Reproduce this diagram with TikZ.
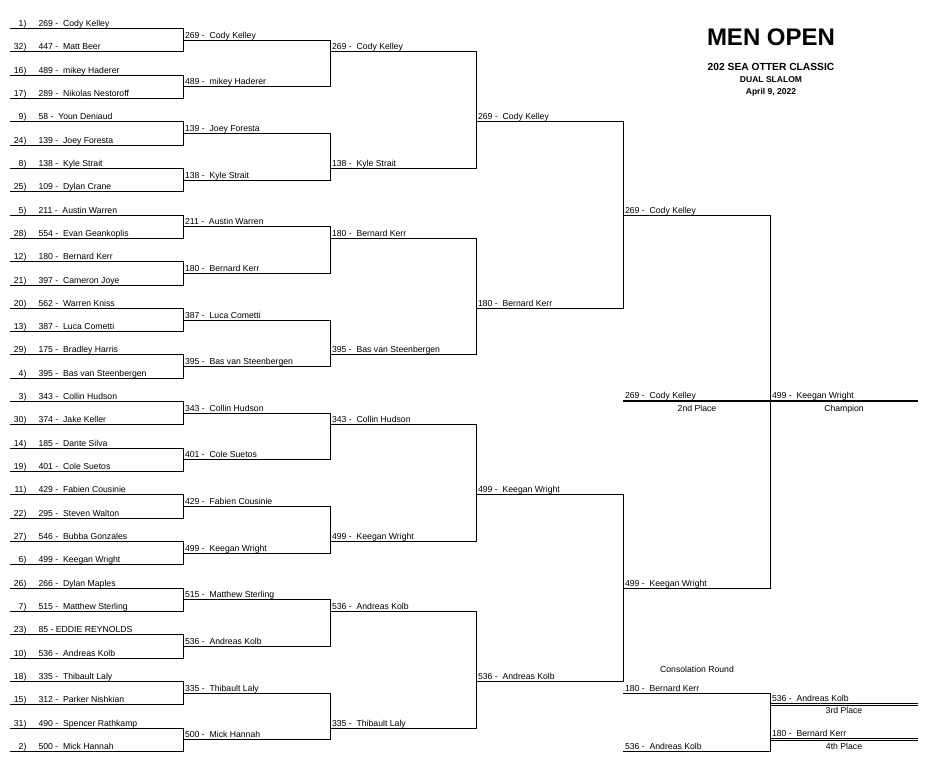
\documentclass[tikz,border=0pt]{standalone}
\usepackage{fontspec}
\setmainfont{Liberation Sans}
\newcommand\ent[2]{#1 -\ \ #2}
\begin{document}
\begin{tikzpicture}[x=0.75pt,y=-0.75pt,
  declare function={Y(\n)=round(28+11.66*\n)+0.5;},
  lab/.style={inner sep=0pt, font=\fontsize{6.5}{7}\selectfont},
  ln/.style={line width=0.75pt, line cap=rect},
  thk/.style={line width=1.5pt},
  dbl/.style={line width=0.75pt},
  ttl/.style={inner sep=0pt, anchor=base, font=\bfseries\fontsize{#1}{#1}\selectfont}]
\useasboundingbox (0,0) rectangle (948,775);
% titles
\node[ttl=18] (t1) at (771,45) {MEN OPEN};
\node[ttl=7.7] (t2) at (771,70.7) {202 SEA OTTER CLASSIC};
\node[ttl=6.4] (t3) at (771,82.7) {DUAL SLALOM};
\node[ttl=6.4] (t4) at (771,94.3) {April 9, 2022};
% round 1
\foreach \k/\s/\t in {0/1/\ent{269}{Cody Kelley},1/32/\ent{447}{Matt Beer},2/16/\ent{489}{mikey Haderer},3/17/\ent{289}{Nikolas Nestoroff},
 4/9/\ent{58}{Youn Deniaud},5/24/\ent{139}{Joey Foresta},6/8/\ent{138}{Kyle Strait},7/25/\ent{109}{Dylan Crane},
 8/5/\ent{211}{Austin Warren},9/28/\ent{554}{Evan Geankoplis},10/12/\ent{180}{Bernard Kerr},11/21/\ent{397}{Cameron Joye},
 12/20/\ent{562}{Warren Kniss},13/13/\ent{387}{Luca Cometti},14/29/\ent{175}{Bradley Harris},15/4/\ent{395}{Bas van Steenbergen},
 16/3/\ent{343}{Collin Hudson},17/30/\ent{374}{Jake Keller},18/14/\ent{185}{Dante Silva},19/19/\ent{401}{Cole Suetos},
 20/11/\ent{429}{Fabien Cousinie},21/22/\ent{295}{Steven Walton},22/27/\ent{546}{Bubba Gonzales},23/6/\ent{499}{Keegan Wright},
 24/26/\ent{266}{Dylan Maples},25/7/\ent{515}{Matthew Sterling},26/23/85 - EDDIE REYNOLDS,27/10/\ent{536}{Andreas Kolb},
 28/18/\ent{335}{Thibault Laly},29/15/\ent{312}{Parker Nishkian},30/31/\ent{490}{Spencer Rathkamp},31/2/\ent{500}{Mick Hannah}}{
  \pgfmathsetmacro\yy{Y(2*\k)}
  \draw[ln] (10,\yy) -- (183.5,\yy);
  \node[lab,anchor=base east] (s\k) at (26.7,\yy-2.5) {\s)};
  \node[lab,anchor=base west] (a\k) at (38.3,\yy-2.5) {\t};
}
\foreach \j in {0,...,15}{
  \draw[ln] (183.5,{Y(4*\j)}) -- (183.5,{Y(4*\j+2)});
}
% round 2
\foreach \j/\t in {0/\ent{269}{Cody Kelley},1/\ent{489}{mikey Haderer},2/\ent{139}{Joey Foresta},3/\ent{138}{Kyle Strait},
 4/\ent{211}{Austin Warren},5/\ent{180}{Bernard Kerr},6/\ent{387}{Luca Cometti},7/\ent{395}{Bas van Steenbergen},
 8/\ent{343}{Collin Hudson},9/\ent{401}{Cole Suetos},10/\ent{429}{Fabien Cousinie},11/\ent{499}{Keegan Wright},
 12/\ent{515}{Matthew Sterling},13/\ent{536}{Andreas Kolb},14/\ent{335}{Thibault Laly},15/\ent{500}{Mick Hannah}}{
  \pgfmathsetmacro\yy{Y(4*\j+1)}
  \draw[ln] (183.5,\yy) -- (330.5,\yy);
  \node[lab,anchor=base west] (b\j) at (184.8,\yy-2.5) {\t};
}
\foreach \m in {0,...,7}{
  \draw[ln] (330.5,{Y(8*\m+1)}) -- (330.5,{Y(8*\m+5)});
}
% round 3
\foreach \n/\t in {2/\ent{269}{Cody Kelley},12/\ent{138}{Kyle Strait},18/\ent{180}{Bernard Kerr},28/\ent{395}{Bas van Steenbergen},
 34/\ent{343}{Collin Hudson},44/\ent{499}{Keegan Wright},50/\ent{536}{Andreas Kolb},60/\ent{335}{Thibault Laly}}{
  \pgfmathsetmacro\yy{Y(\n)}
  \draw[ln] (330.5,\yy) -- (476.5,\yy);
  \node[lab,anchor=base west] (c\n) at (331.8,\yy-2.5) {\t};
}
\foreach \m in {0,...,3}{
  \draw[ln] (476.5,{Y(16*\m+2)}) -- (476.5,{Y(16*\m+12)});
}
% round 4
\foreach \n/\t in {8/\ent{269}{Cody Kelley},24/\ent{180}{Bernard Kerr},40/\ent{499}{Keegan Wright},56/\ent{536}{Andreas Kolb}}{
  \pgfmathsetmacro\yy{Y(\n)}
  \draw[ln] (476.5,\yy) -- (623.5,\yy);
  \node[lab,anchor=base west] (d\n) at (477.8,\yy-2.5) {\t};
}
\foreach \m in {0,1}{
  \draw[ln] (623.5,{Y(32*\m+8)}) -- (623.5,{Y(32*\m+24)});
}
% round 5
\foreach \n/\t in {16/\ent{269}{Cody Kelley},48/\ent{499}{Keegan Wright}}{
  \pgfmathsetmacro\yy{Y(\n)}
  \draw[ln] (623.5,\yy) -- (770.5,\yy);
  \node[lab,anchor=base west] (e\n) at (624.8,\yy-2.5) {\t};
}
\draw[ln] (770.5,{Y(16)}) -- (770.5,{Y(48)});
% final
\draw[thk] (623,401) -- (918,401);
\node[lab,anchor=base west] (f1) at (624.8,398) {\ent{269}{Cody Kelley}};
\node[lab,anchor=base west] (f2) at (771.8,398) {\ent{499}{Keegan Wright}};
\node[lab,anchor=base] (p2) at (697,411) {2nd Place};
\node[lab,anchor=base] (p1) at (844,411) {Champion};
% consolation
\node[lab,anchor=base] (cr) at (697,672.3) {Consolation Round};
\draw[ln] (623.5,693.5) -- (770.5,693.5) -- (770.5,751.5) -- (623.5,751.5);
\node[lab,anchor=base west] (g1) at (624.8,691) {\ent{180}{Bernard Kerr}};
\node[lab,anchor=base west] (g2) at (624.8,749) {\ent{536}{Andreas Kolb}};
\draw[dbl] (770.5,703.5) -- (918,703.5);
\draw[dbl] (770.5,705.5) -- (918,705.5);
\draw[dbl] (770.5,738.5) -- (918,738.5);
\draw[dbl] (770.5,740.5) -- (918,740.5);
\node[lab,anchor=base west] (h1) at (771.8,701.3) {\ent{536}{Andreas Kolb}};
\node[lab,anchor=base west] (h2) at (771.8,736.3) {\ent{180}{Bernard Kerr}};
\node[lab,anchor=base] (p3) at (844,713.7) {3rd Place};
\node[lab,anchor=base] (p4) at (844,749.8) {4th Place};
\end{tikzpicture}
\end{document}
